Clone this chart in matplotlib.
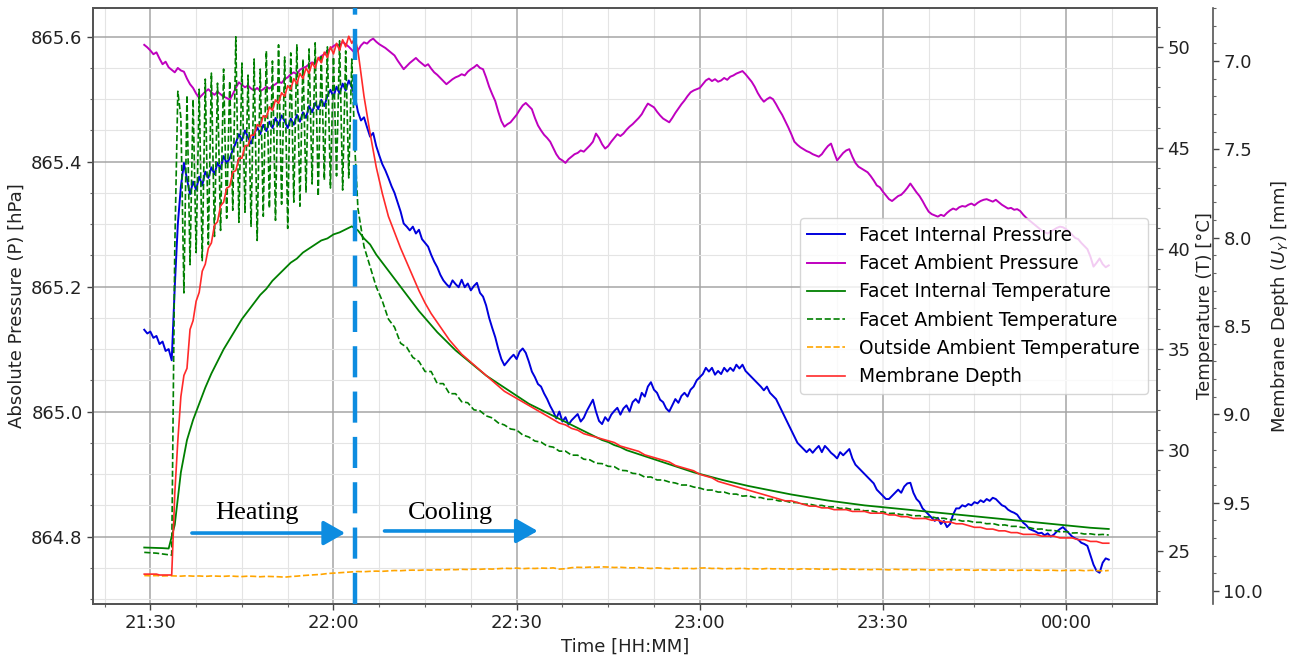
import numpy as np
import matplotlib
matplotlib.use("Agg")
import matplotlib.pyplot as plt
from matplotlib.ticker import MultipleLocator, AutoMinorLocator, FuncFormatter

# ---------------------------------------------------------------------------
# Logger clock: minutes after 21:30
# ---------------------------------------------------------------------------
START_MIN = -1.0      # first sample (21:29)
FINE_STEP = 0.5       # fast channels (pressures, heating phase)
COARSE_STEP = 1.0     # slow channels
COOL_START = 34.0     # first cooling sample
HEATER_OFF = 33.6     # heater switched off

# Facet internal pressure [hPa], 0.5-min samples from START_MIN
internal_pressure = [
    865.131, 865.125, 865.128, 865.118, 865.121, 865.108, 865.112, 865.097, 865.100, 865.082,
    865.200, 865.300, 865.360, 865.398, 865.372, 865.348, 865.368, 865.355, 865.376, 865.362,
    865.384, 865.374, 865.391, 865.380, 865.398, 865.389, 865.409, 865.398, 865.405, 865.419,
    865.430, 865.444, 865.434, 865.450, 865.439, 865.429, 865.444, 865.455, 865.444, 865.459,
    865.449, 865.464, 865.454, 865.470, 865.459, 865.474, 865.465, 865.454, 865.469, 865.459,
    865.475, 865.464, 865.479, 865.470, 865.489, 865.479, 865.494, 865.484, 865.499, 865.489,
    865.505, 865.515, 865.504, 865.520, 865.509, 865.525, 865.514, 865.530, 865.519, 865.505,
    865.480, 865.466, 865.471, 865.455, 865.440, 865.446, 865.425, 865.410, 865.396, 865.386,
    865.374, 865.361, 865.350, 865.335, 865.320, 865.301, 865.296, 865.290, 865.296, 865.285,
    865.291, 865.276, 865.270, 865.264, 865.251, 865.240, 865.231, 865.219, 865.210, 865.204,
    865.199, 865.210, 865.204, 865.199, 865.211, 865.199, 865.205, 865.194, 865.201, 865.206,
    865.190, 865.184, 865.170, 865.150, 865.134, 865.119, 865.100, 865.084, 865.074, 865.080,
    865.086, 865.091, 865.084, 865.096, 865.101, 865.094, 865.080, 865.064, 865.055, 865.044,
    865.040, 865.029, 865.020, 865.009, 865.000, 864.989, 865.000, 864.984, 864.991, 864.979,
    864.986, 864.991, 864.996, 864.984, 864.990, 865.001, 865.010, 865.019, 865.000, 864.985,
    864.980, 864.991, 864.985, 864.995, 865.001, 865.006, 864.995, 865.005, 865.010, 865.000,
    865.015, 865.020, 865.014, 865.030, 865.024, 865.040, 865.047, 865.035, 865.030, 865.019,
    865.015, 865.005, 865.000, 865.010, 865.020, 865.014, 865.025, 865.030, 865.024, 865.035,
    865.040, 865.050, 865.055, 865.060, 865.070, 865.064, 865.070, 865.059, 865.065, 865.060,
    865.070, 865.064, 865.070, 865.065, 865.075, 865.069, 865.075, 865.065, 865.060, 865.055,
    865.050, 865.045, 865.040, 865.034, 865.040, 865.030, 865.025, 865.020, 865.010, 865.000,
    864.990, 864.980, 864.970, 864.960, 864.950, 864.945, 864.940, 864.935, 864.940, 864.934,
    864.940, 864.945, 864.935, 864.945, 864.940, 864.934, 864.930, 864.925, 864.935, 864.930,
    864.935, 864.940, 864.925, 864.915, 864.910, 864.905, 864.900, 864.895, 864.890, 864.885,
    864.875, 864.870, 864.865, 864.860, 864.860, 864.865, 864.870, 864.875, 864.870, 864.880,
    864.885, 864.886, 864.870, 864.860, 864.855, 864.845, 864.840, 864.835, 864.830, 864.825,
    864.830, 864.820, 864.825, 864.815, 864.820, 864.835, 864.845, 864.845, 864.850, 864.848,
    864.852, 864.850, 864.855, 864.853, 864.858, 864.855, 864.860, 864.857, 864.862, 864.860,
    864.855, 864.850, 864.848, 864.843, 864.840, 864.838, 864.835, 864.828, 864.822, 864.818,
    864.812, 864.810, 864.808, 864.805, 864.806, 864.802, 864.805, 864.800, 864.803, 864.808,
    864.812, 864.815, 864.810, 864.805, 864.800, 864.797, 864.795, 864.790, 864.788, 864.785,
    864.770, 864.755, 864.745, 864.742, 864.758, 864.765, 864.763,
]

# Facet ambient pressure [hPa], 0.5-min samples from START_MIN
ambient_pressure = [
    865.587, 865.583, 865.578, 865.572, 865.575, 865.565, 865.556, 865.560, 865.551, 865.547,
    865.543, 865.550, 865.546, 865.544, 865.533, 865.524, 865.518, 865.509, 865.502, 865.507,
    865.512, 865.516, 865.511, 865.507, 865.512, 865.508, 865.504, 865.502, 865.499, 865.508,
    865.518, 865.527, 865.523, 865.519, 865.522, 865.517, 865.514, 865.518, 865.513, 865.516,
    865.520, 865.517, 865.521, 865.524, 865.528, 865.526, 865.532, 865.535, 865.540, 865.543,
    865.540, 865.547, 865.550, 865.552, 865.556, 865.559, 865.557, 865.564, 865.569, 865.572,
    865.577, 865.581, 865.585, 865.588, 865.586, 865.592, 865.588, 865.584, 865.579, 865.574,
    865.578, 865.586, 865.591, 865.589, 865.594, 865.597, 865.592, 865.588, 865.585, 865.582,
    865.578, 865.574, 865.570, 865.562, 865.555, 865.548, 865.553, 865.558, 865.562, 865.566,
    865.561, 865.557, 865.553, 865.556, 865.549, 865.543, 865.539, 865.534, 865.529, 865.524,
    865.528, 865.532, 865.535, 865.537, 865.540, 865.538, 865.544, 865.548, 865.551, 865.555,
    865.550, 865.548, 865.535, 865.520, 865.508, 865.497, 865.480, 865.465, 865.456, 865.460,
    865.463, 865.469, 865.475, 865.483, 865.490, 865.494, 865.489, 865.484, 865.470, 865.458,
    865.450, 865.443, 865.438, 865.432, 865.422, 865.412, 865.405, 865.402, 865.398, 865.404,
    865.408, 865.412, 865.414, 865.418, 865.416, 865.421, 865.426, 865.432, 865.445, 865.438,
    865.428, 865.421, 865.425, 865.432, 865.438, 865.444, 865.441, 865.445, 865.451, 865.456,
    865.460, 865.465, 865.470, 865.476, 865.485, 865.493, 865.490, 865.487, 865.480, 865.474,
    865.469, 865.466, 865.463, 865.470, 865.478, 865.485, 865.492, 865.498, 865.505, 865.511,
    865.514, 865.516, 865.518, 865.524, 865.530, 865.533, 865.529, 865.532, 865.528, 865.530,
    865.534, 865.531, 865.536, 865.538, 865.541, 865.543, 865.545, 865.540, 865.534, 865.528,
    865.520, 865.510, 865.502, 865.496, 865.500, 865.503, 865.500, 865.492, 865.483, 865.475,
    865.465, 865.455, 865.444, 865.432, 865.427, 865.423, 865.420, 865.417, 865.415, 865.412,
    865.410, 865.408, 865.412, 865.419, 865.425, 865.429, 865.415, 865.402, 865.408, 865.414,
    865.418, 865.420, 865.408, 865.398, 865.392, 865.389, 865.386, 865.383, 865.377, 865.370,
    865.362, 865.359, 865.352, 865.346, 865.340, 865.337, 865.341, 865.345, 865.347, 865.352,
    865.358, 865.365, 865.358, 865.351, 865.345, 865.337, 865.328, 865.320, 865.316, 865.314,
    865.312, 865.315, 865.313, 865.318, 865.322, 865.325, 865.323, 865.327, 865.329, 865.328,
    865.331, 865.333, 865.330, 865.334, 865.337, 865.339, 865.340, 865.338, 865.336, 865.339,
    865.335, 865.331, 865.328, 865.325, 865.326, 865.323, 865.324, 865.321, 865.315, 865.310,
    865.306, 865.302, 865.298, 865.294, 865.290, 865.287, 865.285, 865.288, 865.291, 865.294,
    865.296, 865.295, 865.292, 865.288, 865.283, 865.278, 865.276, 865.270, 865.265, 865.260,
    865.248, 865.232, 865.238, 865.245, 865.236, 865.231, 865.234,
]

# Facet internal temperature [degC], 1-min samples from START_MIN
internal_temp = [
    25.17, 25.16, 25.15, 25.14, 25.12, 26.30, 28.90, 30.50, 31.50, 32.30,
    33.10, 33.80, 34.40, 35.00, 35.50, 36.00, 36.50, 36.90, 37.30, 37.70,
    38.00, 38.40, 38.70, 39.00, 39.30, 39.50, 39.80, 40.00, 40.20, 40.40,
    40.50, 40.70, 40.80, 40.95, 41.10, 40.90, 40.50, 40.20, 39.70, 39.30,
    38.90, 38.50, 38.10, 37.70, 37.30, 36.90, 36.55, 36.20, 35.85, 35.55,
    35.25, 34.95, 34.70, 34.45, 34.20, 33.95, 33.70, 33.50, 33.30, 33.10,
    32.90, 32.70, 32.50, 32.30, 32.15, 32.00, 31.85, 31.70, 31.55, 31.40,
    31.25, 31.10, 30.95, 30.80, 30.65, 30.50, 30.40, 30.25, 30.15, 30.00,
    29.90, 29.80, 29.70, 29.60, 29.50, 29.40, 29.30, 29.20, 29.10, 29.00,
    28.90, 28.82, 28.74, 28.66, 28.58, 28.50, 28.43, 28.36, 28.29, 28.22,
    28.16, 28.10, 28.04, 27.98, 27.92, 27.86, 27.80, 27.75, 27.70, 27.65,
    27.60, 27.55, 27.50, 27.46, 27.42, 27.38, 27.34, 27.30, 27.26, 27.23,
    27.20, 27.17, 27.14, 27.11, 27.08, 27.05, 27.02, 26.99, 26.96, 26.93,
    26.90, 26.87, 26.84, 26.81, 26.78, 26.75, 26.72, 26.69, 26.66, 26.63,
    26.60, 26.57, 26.54, 26.51, 26.48, 26.45, 26.42, 26.39, 26.36, 26.33,
    26.30, 26.27, 26.24, 26.21, 26.18, 26.15, 26.13, 26.11, 26.09,
]

# Facet ambient temperature [degC]: heating phase (0.5-min from START_MIN)
ambient_temp_heating = [
    24.93, 24.92, 24.91, 24.90, 24.89, 24.87, 24.85, 24.83, 24.81, 24.79,
    40.00, 47.80, 46.50, 37.80, 47.60, 39.20, 47.40, 39.80, 47.90, 39.40,
    48.40, 40.20, 48.70, 40.60, 48.20, 40.90, 48.90, 41.50, 48.30, 41.90,
    50.50, 41.30, 49.20, 41.80, 48.60, 41.10, 49.40, 40.40, 48.90, 41.60,
    49.80, 42.00, 49.30, 41.40, 50.10, 42.20, 49.50, 41.00, 49.70, 42.30,
    50.10, 42.10, 49.40, 42.80, 49.90, 43.20, 50.20, 42.60, 49.60, 43.40,
    50.00, 43.00, 49.50, 43.60, 50.30, 42.90, 49.80, 43.50, 49.40, 45.00,
]
# ... and cooling phase (1-min from COOL_START)
ambient_temp_cooling = [
    42.00, 40.10, 39.10, 38.10, 37.40, 36.50, 36.10, 35.30, 35.10, 34.60,
    34.40, 33.90, 33.90, 33.30, 33.30, 32.80, 32.80, 32.40, 32.35, 32.00,
    31.95, 31.70, 31.60, 31.35, 31.25, 31.05, 31.00, 30.75, 30.65, 30.45,
    30.40, 30.20, 30.15, 29.95, 29.95, 29.75, 29.75, 29.55, 29.52, 29.35,
    29.33, 29.20, 29.18, 29.00, 28.98, 28.85, 28.82, 28.66, 28.67, 28.52,
    28.52, 28.42, 28.37, 28.27, 28.27, 28.17, 28.12, 28.02, 28.02, 27.92,
    27.92, 27.82, 27.82, 27.72, 27.74, 27.65, 27.65, 27.56, 27.56, 27.48,
    27.48, 27.40, 27.40, 27.32, 27.32, 27.25, 27.26, 27.18, 27.19, 27.11,
    27.12, 27.05, 27.06, 26.99, 27.00, 26.93, 26.94, 26.86, 26.87, 26.80,
    26.81, 26.74, 26.75, 26.68, 26.69, 26.62, 26.62, 26.55, 26.56, 26.48,
    26.49, 26.42, 26.42, 26.35, 26.36, 26.28, 26.29, 26.22, 26.22, 26.15,
    26.16, 26.08, 26.09, 26.02, 26.02, 25.95, 25.96, 25.89, 25.90, 25.84,
    25.85, 25.80, 25.82, 25.79,
]

# Outside ambient temperature [degC], 1-min samples from START_MIN
outside_temp = [
    23.78, 23.77, 23.78, 23.76, 23.77, 23.76, 23.75, 23.77, 23.75, 23.76,
    23.74, 23.76, 23.75, 23.74, 23.76, 23.74, 23.73, 23.75, 23.74, 23.72,
    23.74, 23.73, 23.72, 23.70, 23.73, 23.75, 23.78, 23.80, 23.82, 23.84,
    23.88, 23.90, 23.92, 23.94, 23.96, 23.98, 23.97, 23.99, 24.00, 23.99,
    24.01, 24.03, 24.02, 24.04, 24.05, 24.04, 24.06, 24.05, 24.07, 24.06,
    24.08, 24.07, 24.09, 24.08, 24.10, 24.09, 24.11, 24.10, 24.12, 24.14,
    24.13, 24.15, 24.12, 24.14, 24.13, 24.15, 24.14, 24.16, 24.10, 24.12,
    24.17, 24.19, 24.18, 24.20, 24.19, 24.21, 24.20, 24.18, 24.19, 24.17,
    24.16, 24.18, 24.15, 24.13, 24.16, 24.14, 24.12, 24.15, 24.13, 24.14,
    24.12, 24.15, 24.16, 24.13, 24.14, 24.11, 24.13, 24.12, 24.14, 24.11,
    24.12, 24.10, 24.13, 24.11, 24.12, 24.10, 24.11, 24.09, 24.12, 24.10,
    24.11, 24.09, 24.10, 24.08, 24.11, 24.09, 24.10, 24.08, 24.09, 24.07,
    24.09, 24.08, 24.06, 24.09, 24.07, 24.08, 24.06, 24.08, 24.07, 24.05,
    24.07, 24.06, 24.08, 24.05, 24.07, 24.06, 24.04, 24.07, 24.05, 24.06,
    24.04, 24.06, 24.05, 24.03, 24.06, 24.04, 24.05, 24.03, 24.05, 24.04,
    24.02, 24.04, 24.03, 24.05, 24.02, 24.04, 24.03, 24.01, 24.03,
]

# Membrane depth [mm]: heating phase (0.5-min from START_MIN)
membrane_heating = [
    9.905, 9.905, 9.905, 9.905, 9.905, 9.91, 9.91, 9.91, 9.91, 9.91,
    9.45, 9.15, 8.90, 8.78, 8.74, 8.52, 8.47, 8.36, 8.31, 8.19,
    8.15, 8.06, 8.03, 7.93, 7.91, 7.82, 7.80, 7.72, 7.71, 7.63,
    7.62, 7.55, 7.55, 7.48, 7.48, 7.42, 7.42, 7.36, 7.37, 7.31,
    7.32, 7.26, 7.28, 7.22, 7.24, 7.18, 7.20, 7.14, 7.16, 7.10,
    7.13, 7.07, 7.10, 7.04, 7.07, 7.01, 7.04, 6.98, 7.01, 6.95,
    6.98, 6.92, 6.96, 6.90, 6.94, 6.88, 6.92, 6.86, 6.90, 6.87,
]
# ... and cooling phase (1-min from COOL_START)
membrane_cooling = [
    6.94, 7.20, 7.41, 7.60, 7.75, 7.88, 7.97, 8.06, 8.14, 8.22,
    8.30, 8.37, 8.43, 8.48, 8.53, 8.58, 8.62, 8.66, 8.69, 8.72,
    8.75, 8.78, 8.81, 8.84, 8.87, 8.89, 8.91, 8.93, 8.95, 8.97,
    8.99, 9.01, 9.03, 9.05, 9.06, 9.08, 9.09, 9.11, 9.12, 9.13,
    9.14, 9.15, 9.16, 9.18, 9.19, 9.20, 9.21, 9.23, 9.24, 9.25,
    9.26, 9.27, 9.29, 9.30, 9.31, 9.32, 9.34, 9.35, 9.36, 9.38,
    9.39, 9.40, 9.41, 9.42, 9.43, 9.44, 9.45, 9.46, 9.47, 9.48,
    9.49, 9.49, 9.50, 9.51, 9.52, 9.52, 9.53, 9.53, 9.54, 9.54,
    9.54, 9.55, 9.55, 9.55, 9.56, 9.56, 9.56, 9.57, 9.57, 9.58,
    9.58, 9.59, 9.59, 9.59, 9.60, 9.60, 9.61, 9.61, 9.62, 9.62,
    9.63, 9.64, 9.64, 9.65, 9.65, 9.66, 9.66, 9.67, 9.67, 9.68,
    9.68, 9.68, 9.69, 9.69, 9.69, 9.70, 9.70, 9.70, 9.71, 9.71,
    9.72, 9.72, 9.73, 9.73,
]

# ---------------------------------------------------------------------------
# Time bases
# ---------------------------------------------------------------------------
def clock(start, step, n):
    return start + step * np.arange(n)

t_press = clock(START_MIN, FINE_STEP, len(internal_pressure))
t_amb_p = clock(START_MIN, FINE_STEP, len(ambient_pressure))
t_int_T = clock(START_MIN, COARSE_STEP, len(internal_temp))
t_out_T = clock(START_MIN, COARSE_STEP, len(outside_temp))
t_amb_T = np.concatenate([clock(START_MIN, FINE_STEP, len(ambient_temp_heating)),
                          clock(COOL_START, COARSE_STEP, len(ambient_temp_cooling))])
amb_T = np.array(ambient_temp_heating + ambient_temp_cooling)
t_mem = np.concatenate([clock(START_MIN, FINE_STEP, len(membrane_heating)),
                        clock(COOL_START, COARSE_STEP, len(membrane_cooling))])
mem = np.array(membrane_heating + membrane_cooling)

# ---------------------------------------------------------------------------
# Figure
# ---------------------------------------------------------------------------
FS = 13
plt.rcParams["font.family"] = ["DejaVu Sans"]

fig = plt.figure(figsize=(12.93, 6.55), dpi=100)
ax1 = fig.add_axes([0.0719, 0.0779, 0.8229, 0.9099])
ax2 = ax1.twinx()
ax3 = ax1.twinx()
ax3.spines["right"].set_position(("axes", 1.0526))

C_BLUE = "#0000dd"
C_MAG = "#bf00bf"
C_GREEN = "#007f00"
C_ORANGE = "#ffa500"
C_RED = "#ff2a2a"
C_MARK = "#0d8ce0"

h1, = ax1.plot(t_press, internal_pressure, color=C_BLUE, lw=1.4,
               label="Facet Internal Pressure")
h2, = ax1.plot(t_amb_p, ambient_pressure, color=C_MAG, lw=1.4,
               label="Facet Ambient Pressure")
h3, = ax2.plot(t_int_T, internal_temp, color=C_GREEN, lw=1.3,
               label="Facet Internal Temperature")
h4, = ax2.plot(t_amb_T, amb_T, color=C_GREEN, lw=1.2, ls="--",
               label="Facet Ambient Temperature")
h5, = ax2.plot(t_out_T, outside_temp, color=C_ORANGE, lw=1.2, ls="--",
               label="Outside Ambient Temperature")
h6, = ax3.plot(t_mem, mem, color=C_RED, lw=1.2, label="Membrane Depth")

# heater switch-off marker
ax3.axvline(HEATER_OFF, color=C_MARK, lw=3.2, dashes=(7, 3.2), zorder=5)

# phase arrows and labels
arrow_kw = dict(arrowstyle="-|>,head_length=0.6,head_width=0.34",
                color=C_MARK, lw=2.6, shrinkA=0, shrinkB=0, mutation_scale=22)
ax3.annotate("", xy=(0.237, 0.119), xytext=(0.093, 0.119),
             xycoords="axes fraction", textcoords="axes fraction",
             arrowprops=arrow_kw)
ax3.annotate("", xy=(0.418, 0.1225), xytext=(0.274, 0.1225),
             xycoords="axes fraction", textcoords="axes fraction",
             arrowprops=arrow_kw)
ax3.text(0.154, 0.153, "Heating", transform=ax3.transAxes, ha="center",
         va="center", fontsize=19, family="Liberation Serif")
ax3.text(0.3355, 0.153, "Cooling", transform=ax3.transAxes, ha="center",
         va="center", fontsize=19, family="Liberation Serif")

# axes limits
ax1.set_xlim(-9.4, 164.9)
ax1.set_ylim(864.692, 865.646)
ax2.set_ylim(22.37, 51.93)
ax3.set_ylim(10.074, 6.70)

# ticks
def hhmm(m, pos=None):
    total = int(round(21 * 60 + 30 + m))
    return f"{(total // 60) % 24:02d}:{total % 60:02d}"

ax1.xaxis.set_major_locator(MultipleLocator(30))
ax1.xaxis.set_minor_locator(AutoMinorLocator(4))
ax1.xaxis.set_major_formatter(FuncFormatter(hhmm))
ax1.yaxis.set_major_locator(MultipleLocator(0.2))
ax1.yaxis.set_minor_locator(AutoMinorLocator(4))
ax1.yaxis.set_major_formatter(FuncFormatter(lambda v, p: f"{v:.1f}"))
ax2.yaxis.set_major_locator(MultipleLocator(5))
ax2.yaxis.set_minor_locator(AutoMinorLocator(5))
ax3.yaxis.set_major_locator(MultipleLocator(0.5))
ax3.yaxis.set_minor_locator(AutoMinorLocator(5))

for ax in (ax1, ax2, ax3):
    ax.tick_params(which="major", labelsize=FS, length=4, width=1.0,
                   color="#444444", labelcolor="#222222")
    ax.tick_params(which="minor", length=2.5, width=0.8, color="#666666")
    for sp in ax.spines.values():
        sp.set_color("#555555")
        sp.set_linewidth(1.2)

ax1.grid(which="major", color="#a5a5a5", lw=1.1)
ax1.grid(which="minor", color="#e4e4e4", lw=0.8)

ax1.set_xlabel("Time [HH:MM]", fontsize=FS, color="#222222")
ax1.set_ylabel("Absolute Pressure (P) [hPa]", fontsize=FS, color="#222222")
ax2.set_ylabel("Temperature (T) [°C]", fontsize=FS, color="#222222")
ax3.set_ylabel(r"Membrane Depth ($U_Y$) [mm]", fontsize=FS, color="#222222")

leg = ax3.legend(handles=[h1, h2, h3, h4, h5, h6], loc="center right",
                 fontsize=13.4)
leg.set_zorder(10)

fig.savefig("out.png", dpi=100)
